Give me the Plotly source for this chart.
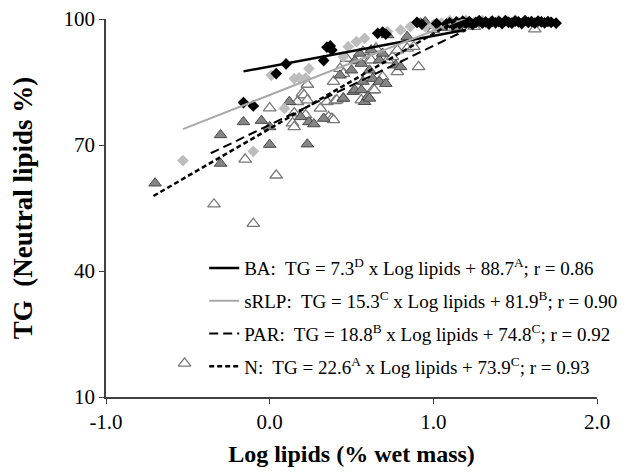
import plotly.graph_objects as go

# BA (black diamonds)
ba_x = [-0.16, -0.10, 0.04, 0.10, 0.33, 0.35, 0.38, 0.37, 0.66, 0.69, 0.71, 0.90, 0.93, 1.02,
        1.08, 1.10, 1.12, 1.14, 1.16, 1.18, 1.20, 1.22, 1.24, 1.26, 1.28, 1.30, 1.32, 1.34,
        1.36, 1.38, 1.40, 1.42, 1.44, 1.46, 1.48, 1.50, 1.52, 1.54, 1.56, 1.58, 1.60, 1.62,
        1.64, 1.66, 1.68, 1.70, 1.72, 1.75]
ba_y = [80.1, 79.3, 87.0, 89.3, 90.1, 93.3, 92.6, 93.6, 96.6, 96.9, 96.4, 99.2, 98.8, 98.9,
        98.8, 99.1, 98.6, 99.3, 98.9, 99.5, 99.0, 99.4, 98.7, 99.2, 99.6, 99.0, 99.3, 98.8,
        99.5, 99.1, 99.4, 98.9, 99.6, 99.2, 99.0, 99.5, 99.3, 98.9, 99.6, 99.2, 99.4, 99.0,
        99.5, 99.3, 99.1, 99.4, 99.2, 99.0]

# sRLP (light grey diamonds)
srlp_x = [-0.53, -0.10, 0.01, 0.09, 0.15, 0.18, 0.22, 0.24, 0.45, 0.48, 0.53, 0.58, 0.72,
          0.80, 0.86, 0.95, 1.00, 1.05, 1.10, 1.15, 1.20, 1.25, 1.30, 1.35, 1.40, 1.45, 1.50]
srlp_y = [66.3, 68.5, 86.6, 78.7, 85.8, 86.0, 85.9, 88.2, 91.0, 93.4, 94.6, 95.4, 97.0,
          97.4, 98.2, 98.2, 98.6, 99.0, 99.6, 99.3, 99.7, 99.2, 99.6, 99.4, 99.7, 99.5, 99.8]

# PAR (dark grey filled triangles)
par_x = [-0.70, -0.30, -0.30, -0.16, -0.05, 0.00, 0.00, 0.12, 0.19, 0.23, 0.24, 0.27, 0.33,
         0.43, 0.45, 0.50, 0.51, 0.52, 0.52, 0.55, 0.56, 0.56, 0.57, 0.58, 0.60, 0.61, 0.61,
         0.62, 0.63, 0.67, 0.67, 0.69, 0.71, 0.72, 0.77, 0.80, 0.84, 0.95, 1.01, 1.05, 1.10,
         1.15, 1.20, 1.25]
par_y = [60.9, 72.4, 65.6, 75.5, 75.8, 74.3, 70.1, 80.3, 76.7, 70.2, 75.5, 75.0, 76.3,
         86.6, 81.1, 87.8, 82.7, 83.1, 90.0, 91.8, 89.4, 83.1, 85.1, 80.3, 81.5, 87.8, 81.1,
         92.6, 85.8, 85.1, 90.2, 91.8, 84.6, 96.2, 89.0, 88.6, 95.8, 99.3, 98.5, 98.0, 98.8,
         97.9, 98.6, 99.0]

# N (open triangles)
n_x = [-0.52, -0.34, -0.15, -0.10, 0.04, 0.00, 0.14, 0.15, 0.15, 0.17, 0.20, 0.21, 0.23,
       0.23, 0.22, 0.31, 0.35, 0.36, 0.38, 0.39, 0.39, 0.40, 0.41, 0.43, 0.45, 0.45, 0.47,
       0.56, 0.57, 0.61, 0.62, 0.63, 0.64, 0.65, 0.69, 0.72, 0.75, 0.78, 0.78, 0.84, 0.88,
       0.91, 0.92, 1.00, 1.08, 1.15, 1.25, 1.62]
n_y = [18.0, 55.9, 66.6, 51.3, 62.8, 78.8, 75.2, 77.6, 74.3, 80.3, 82.3, 81.9, 84.4,
       80.7, 77.1, 78.7, 80.3, 76.7, 76.3, 76.0, 85.1, 80.5, 80.7, 88.2, 87.0, 81.1, 90.6,
       80.7, 92.2, 90.2, 90.2, 83.1, 83.1, 93.0, 86.2, 90.2, 91.0, 87.4, 92.6, 93.0, 93.4,
       88.6, 98.9, 97.5, 98.0, 97.6, 98.2, 97.6]

# regression lines from the legend equations
fit_names = ["BA:  TG = 7.3<sup>D</sup> x Log lipids + 88.7<sup>A</sup>; r = 0.86",
             "sRLP:  TG = 15.3<sup>C</sup> x Log lipids + 81.9<sup>B</sup>; r = 0.90",
             "PAR:  TG = 18.8<sup>B</sup> x Log lipids + 74.8<sup>C</sup>; r = 0.92",
             "N:  TG = 22.6<sup>A</sup> x Log lipids + 73.9<sup>C</sup>; r = 0.93"]
slopes = [7.3, 15.3, 18.8, 22.6]
intercepts = [88.7, 81.9, 74.8, 73.9]
fit_start = [-0.16, -0.53, -0.36, -0.71]
fit_end = [1.2, 1.2, 1.2, 1.2]

x_ticks = [-1, 0, 1, 2]
x_ticktext = ["-1.0", "0.0", "1.0", "2.0"]
y_ticks = [10, 40, 70, 100]

serif = "Liberation Serif"

fig = go.Figure()

fig.add_trace(go.Scatter(x=n_x, y=n_y, mode="markers", showlegend=False, cliponaxis=False,
                         marker=dict(symbol="triangle-up", size=11, color="white",
                                     line=dict(color="#7a7a7a", width=1.3))))
fig.add_trace(go.Scatter(x=par_x, y=par_y, mode="markers", showlegend=False, cliponaxis=False,
                         marker=dict(symbol="triangle-up", size=11, color="#858585",
                                     line=dict(color="#4a4a4a", width=1))))
fig.add_trace(go.Scatter(x=srlp_x, y=srlp_y, mode="markers", showlegend=False, cliponaxis=False,
                         marker=dict(symbol="diamond", size=9, color="#bdbdbd",
                                     line=dict(width=0))))
fig.add_trace(go.Scatter(x=ba_x, y=ba_y, mode="markers", showlegend=False, cliponaxis=False,
                         marker=dict(symbol="diamond", size=9, color="black",
                                     line=dict(width=0))))

line_styles = [dict(color="black", width=2.5, dash="solid"),
               dict(color="#a8a8a8", width=2, dash="solid"),
               dict(color="black", width=2, dash="9px,5px"),
               dict(color="black", width=2.5, dash="5px,3px")]

for i in range(4):
    xs = [fit_start[i], fit_end[i]]
    ys = [slopes[i] * v + intercepts[i] for v in xs]
    fig.add_trace(go.Scatter(x=xs, y=ys, mode="lines", name=fit_names[i],
                             legendgroup=str(i), line=line_styles[i]))

# page body adds an 8px offset, so the figure is 8px smaller than the window
fig.update_layout(
    width=627, height=467,
    margin=dict(l=98, r=38, t=11, b=78),
    plot_bgcolor="white", paper_bgcolor="white",
    font=dict(family=serif, color="black"),
    legend=dict(x=0.2, y=0.391, xanchor="left", yanchor="top",
                font=dict(family=serif, size=19, color="black"),
                bgcolor="rgba(0,0,0,0)", itemwidth=30, tracegroupgap=5),
    xaxis=dict(range=[-1, 2], tickvals=x_ticks, ticktext=x_ticktext,
               showline=True, linecolor="#404040", linewidth=1.5,
               ticks="outside", ticklen=5, tickcolor="#404040",
               showgrid=False, zeroline=False, automargin=False,
               ticklabeloverflow="allow",
               tickfont=dict(size=21),
               title=dict(text="<b>Log lipids (% wet mass)</b>", font=dict(size=24),
                          standoff=12)),
    yaxis=dict(range=[10, 100], tickvals=y_ticks,
               showline=True, linecolor="#404040", linewidth=1.5,
               ticks="outside", ticklen=5, tickcolor="#404040",
               showgrid=False, zeroline=False, automargin=False,
               ticklabeloverflow="allow",
               tickfont=dict(size=21),
               title=dict(text="<b>TG  (Neutral lipids %)</b>", font=dict(size=27),
                          standoff=26)),
)

fig.write_html("out.html")
